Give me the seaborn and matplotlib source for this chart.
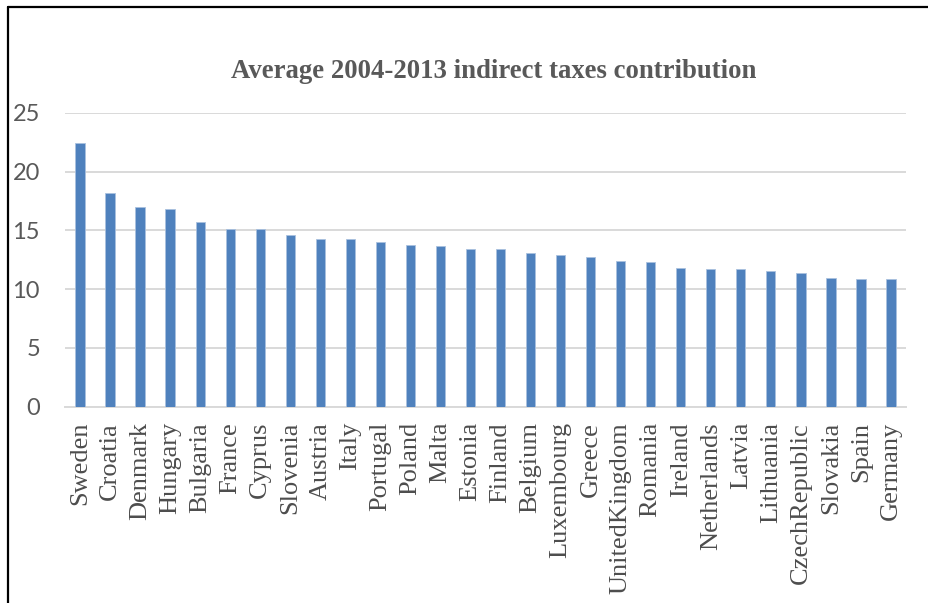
import matplotlib
matplotlib.use("Agg")
import matplotlib.pyplot as plt
from matplotlib.lines import Line2D
import pandas as pd
import seaborn as sns

countries = ["Sweden", "Croatia", "Denmark", "Hungary", "Bulgaria", "France", "Cyprus",
             "Slovenia", "Austria", "Italy", "Portugal", "Poland", "Malta", "Estonia",
             "Finland", "Belgium", "Luxembourg", "Greece", "UnitedKingdom", "Romania",
             "Ireland", "Netherlands", "Latvia", "Lithuania", "CzechRepublic", "Slovakia",
             "Spain", "Germany"]
contribution = [22.4, 18.15, 17.0, 16.8, 15.7, 15.1, 15.1,
                14.6, 14.3, 14.3, 14.0, 13.75, 13.7, 13.4,
                13.4, 13.1, 12.9, 12.75, 12.35, 12.3,
                11.8, 11.7, 11.7, 11.5, 11.35, 10.95,
                10.9, 10.85]
y_ticks = [0, 5, 10, 15, 20, 25]
title = "Average 2004-2013 indirect taxes contribution"

df = pd.DataFrame({"country": countries, "value": contribution})

sns.set_theme(style="white")
plt.rcParams["font.family"] = ["Liberation Serif", "DejaVu Serif"]

fig = plt.figure(figsize=(9.29, 6.03), dpi=100)
ax = fig.add_axes([65 / 929, (603 - 406.7) / 603, 841 / 929, 294 / 603])

sns.barplot(data=df, x="country", y="value", color="#4F81BD", saturation=1,
            width=0.31, edgecolor="#A9C1DF", linewidth=0.6, ax=ax, zorder=3)

ax.set_xlim(-0.5, len(countries) - 0.5)
ax.set_ylim(0, 25)
ax.set_yticks(y_ticks)
ax.yaxis.grid(True, color="#D9D9D9", linewidth=1.4, zorder=0)
ax.xaxis.grid(False)
for side in ["top", "right", "left"]:
    ax.spines[side].set_visible(False)
ax.spines["bottom"].set_color("#D9D9D9")
ax.spines["bottom"].set_linewidth(1.4)
ax.set_xlabel("")
ax.set_ylabel("")
ax.tick_params(axis="both", length=0)
ax.tick_params(axis="y", pad=18)
ax.tick_params(axis="x", pad=11)

for lbl in ax.get_yticklabels():
    lbl.set_fontfamily(["Lato", "DejaVu Sans"])
    lbl.set_fontsize(17)
    lbl.set_color("#595959")
    lbl.set_horizontalalignment("right")
ax.set_xticks(range(len(countries)))
ax.set_xticklabels(countries, rotation=90, fontsize=19, color="#4D4D4D",
                   family=["Liberation Serif", "DejaVu Serif"])

fig.text(494 / 929, 1 - 72 / 603, title, ha="center", va="center",
         fontsize=19.3, fontweight="bold", color="#595959",
         family=["Liberation Serif", "DejaVu Serif"])

# Frame lines along the top and left edges
fig.add_artist(Line2D([8 / 929, 1], [1 - 7 / 603, 1 - 7 / 603],
                      color="black", linewidth=1.6, transform=fig.transFigure))
fig.add_artist(Line2D([8 / 929, 8 / 929], [0, 1 - 7 / 603],
                      color="black", linewidth=1.6, transform=fig.transFigure))

fig.savefig("out.png", dpi=100, facecolor="white")
